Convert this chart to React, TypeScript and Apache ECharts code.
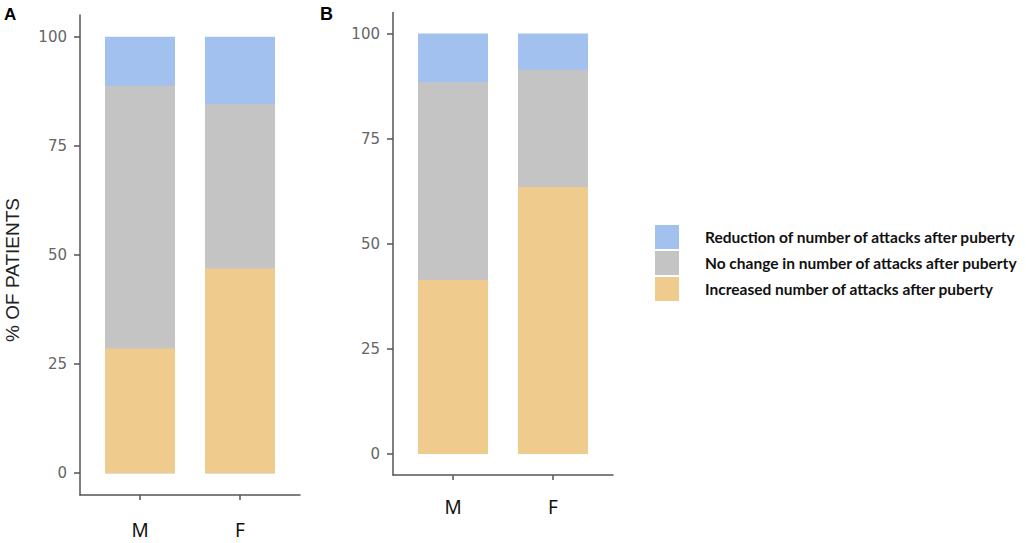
import React, { useEffect, useRef } from "react";
import * as echarts from "echarts";

const categories = ["M", "F"];
const seriesNames = [
  "Reduction of number of attacks after puberty",
  "No change in number of attacks after puberty",
  "Increased number of attacks after puberty",
];
const colors = ["#a3c1ef", "#c4c4c4", "#efcc8d"];

// Panel A (% of patients)
const aIncreased = [28.6, 46.9];
const aNoChange = [60.2, 37.7];
const aReduction = [11.2, 15.4];
// Panel B
const bIncreased = [41.4, 63.5];
const bNoChange = [47.0, 27.9];
const bReduction = [11.6, 8.6];

const yTicks = [0, 25, 50, 75, 100];

function layers(inc: number[], noc: number[], red: number[]) {
  // cumulative tops, drawn from back (largest) to front
  const top2 = inc.map((v, i) => v + noc[i]);
  const top3 = top2.map((v, i) => v + red[i]);
  return [top3, top2, inc];
}

export default function App() {
  const ref = useRef<HTMLDivElement>(null);
  useEffect(() => {
    document.body.style.margin = "0";
    const chart = echarts.init(ref.current!, null, { renderer: "svg" });
    const axisColor = "#555";
    const mkX = (gridIndex: number, margin: number) => ({
      type: "value",
      gridIndex,
      min: 0.4,
      max: 2.6,
      axisLine: { onZero: false, lineStyle: { color: axisColor, width: 1.5 } },
      axisTick: { show: true, length: 5, customValues: [1, 2], lineStyle: { color: axisColor, width: 1.5 } },
      axisLabel: {
        customValues: [1, 2],
        formatter: (v: number) => categories[Math.round(v) - 1] ?? "",
        margin,
        color: "#111",
        fontSize: 19,
        fontFamily: "Noto Sans",
      },
      splitLine: { show: false },
    });
    const mkY = (gridIndex: number) => ({
      type: "value",
      gridIndex,
      min: -5,
      max: 105,
      axisLine: { show: true, onZero: false, lineStyle: { color: axisColor, width: 1.5 } },
      axisTick: { show: true, length: 6, customValues: yTicks, lineStyle: { color: axisColor, width: 1.5 } },
      axisLabel: {
        customValues: yTicks,
        margin: 13,
        color: "#666",
        fontSize: 15,
        fontFamily: "DejaVu Sans",
      },
      splitLine: { show: false },
    });
    const aLayers = layers(aIncreased, aNoChange, aReduction);
    const bLayers = layers(bIncreased, bNoChange, bReduction);
    const series: any[] = [];
    [aLayers, bLayers].forEach((ls, gi) => {
      ls.forEach((vals, li) => {
        series.push({
          type: "bar",
          name: seriesNames[li],
          xAxisIndex: gi,
          yAxisIndex: gi,
          barWidth: 70,
          barGap: "-100%",
          itemStyle: { color: colors[li] },
          data: vals.map((v, i) => [i + 1, v]),
        });
      });
    });
    chart.setOption({
      animation: false,
      grid: [
        { left: 80, top: 15, width: 220, height: 480 },
        { left: 393, top: 12.5, width: 220, height: 462.5 },
      ],
      xAxis: [mkX(0, 25), mkX(1, 22)],
      yAxis: [mkY(0), mkY(1)],
      legend: {
        orient: "vertical",
        left: 650,
        top: 220,
        itemWidth: 24,
        itemHeight: 24,
        itemGap: 2,
        icon: "rect",
        data: seriesNames,
        selectedMode: false,
        textStyle: {
          fontSize: 15.5,
          fontWeight: "bold",
          fontFamily: "Lato",
          color: "#111",
          padding: [2, 0, 0, 21],
        },
      },
      graphic: [
        { type: "text", left: 4, top: 6, style: { text: "A", fontSize: 17, fontWeight: "bold", fontFamily: "Liberation Sans", fill: "#000" } },
        { type: "text", left: 320, top: 5, style: { text: "B", fontSize: 18, fontWeight: "bold", fontFamily: "Liberation Sans", fill: "#000" } },
        {
          type: "text",
          x: 12,
          y: 270,
          rotation: Math.PI / 2,
          style: {
            text: "% OF PATIENTS",
            fontSize: 19,
            fontFamily: "Liberation Sans",
            fill: "#222",
            align: "center",
            verticalAlign: "middle",
          },
        },
      ],
      series,
    });
    return () => chart.dispose();
  }, []);
  return <div ref={ref} style={{ width: 1026, height: 543 }} />;
}
